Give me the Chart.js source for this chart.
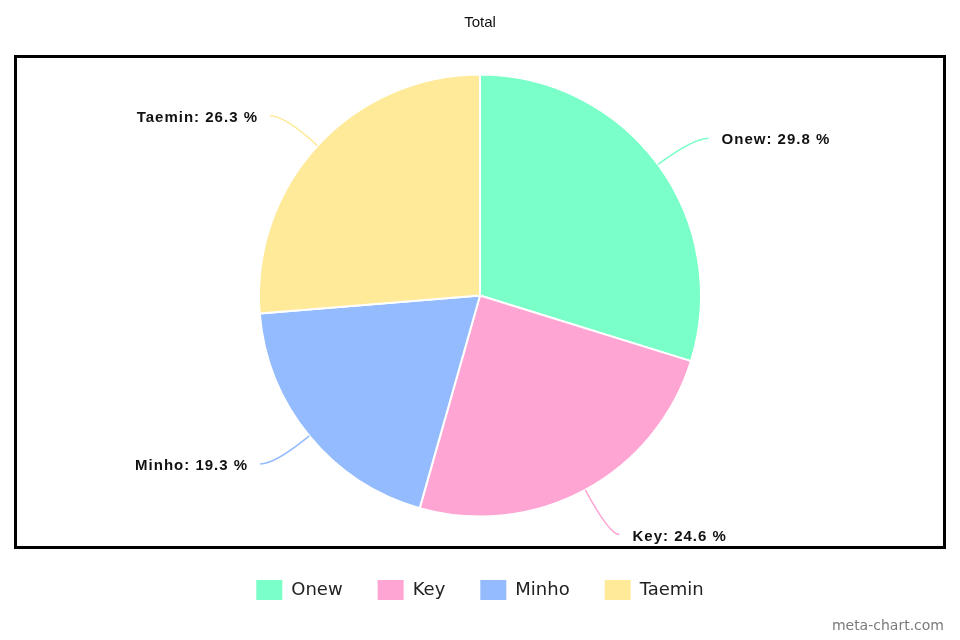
<!DOCTYPE html>
<html lang="en">
<head>
  <meta charset="UTF-8">
  <title>Total</title>
  <script src="https://cdn.jsdelivr.net/npm/chart.js"></script>
  <style>
    body {
      margin: 0;
      background: #ffffff;
    }

    .wrap {
      position: relative;
      width: 960px;
      height: 640px;
    }

    .credit {
      position: absolute;
      right: 16px;
      top: 617px;
      font-family: "DejaVu Sans", sans-serif;
      font-size: 14px;
      color: #7a7a7a;
    }
  </style>
</head>
<body>
  <div class="wrap">
    <canvas id="pieChart" width="960" height="640"></canvas>
    <div class="credit">meta-chart.com</div>
  </div>

  <script>
    const members = ['Onew', 'Key', 'Minho', 'Taemin'];
    const shares = [29.8, 24.6, 19.3, 26.3];
    const sliceColors = ['#79ffc7', '#ffa5d3', '#93bbfd', '#feea98'];

    // frame around the plot + outside labels with curved leader lines
    const framePlugin = {
      id: 'frame',
      afterDraw(chart) {
        const ctx = chart.ctx;
        ctx.save();
        ctx.strokeStyle = '#000';
        ctx.lineWidth = 3;
        ctx.strokeRect(15.5, 56.5, 929, 491);

        const arcs = chart.getDatasetMeta(0).data;
        ctx.font = 'bold 15px "Liberation Sans", Arial, sans-serif';
        ctx.letterSpacing = '1px';
        ctx.fillStyle = '#111';
        ctx.textBaseline = 'middle';
        arcs.forEach((arc, i) => {
          const mid = (arc.startAngle + arc.endAngle) / 2;
          const r = arc.outerRadius;
          const sx = arc.x + Math.cos(mid) * r;
          const sy = arc.y + Math.sin(mid) * r;
          const k = Math.sin(mid) > 0.8 ? 1.23 : 1.2;
          const cx = arc.x + Math.cos(mid) * r * k;
          const cy = arc.y + Math.sin(mid) * r * k;
          const right = Math.cos(mid) >= 0;
          const ex = cx + (right ? (k > 1.2 ? 10 : 15) : -15);

          ctx.strokeStyle = sliceColors[i];
          ctx.lineWidth = 1.5;
          ctx.beginPath();
          ctx.moveTo(sx, sy);
          ctx.quadraticCurveTo(cx, cy, ex, cy);
          ctx.stroke();

          ctx.textAlign = right ? 'left' : 'right';
          ctx.fillText(members[i] + ': ' + shares[i] + ' %', ex + (right ? 13 : -12), cy + 2);
        });
        ctx.restore();
      }
    };

    const ctx = document.getElementById('pieChart').getContext('2d');

    new Chart(ctx, {
      type: 'pie',
      data: {
        labels: members,
        datasets: [{
          data: shares,
          backgroundColor: sliceColors,
          borderColor: '#ffffff',
          borderWidth: 2,
          radius: 221
        }]
      },
      options: {
        responsive: false,
        animation: false,
        layout: { padding: { bottom: 30 } },
        plugins: {
          title: {
            display: true,
            text: 'Total',
            color: '#111',
            font: { family: '"Liberation Sans", Arial, sans-serif', size: 15, weight: 'normal' },
            padding: { top: 14, bottom: 14 }
          },
          legend: {
            position: 'bottom',
            labels: {
              boxWidth: 26,
              boxHeight: 20,
              padding: 35,
              color: '#222',
              font: { family: '"DejaVu Sans", sans-serif', size: 18 },
              generateLabels(chart) {
                return Chart.overrides.pie.plugins.legend.labels.generateLabels(chart)
                  .map(item => Object.assign(item, { lineWidth: 0 }));
              }
            }
          },
          tooltip: { enabled: false }
        }
      },
      plugins: [framePlugin]
    });
  </script>
</body>
</html>
